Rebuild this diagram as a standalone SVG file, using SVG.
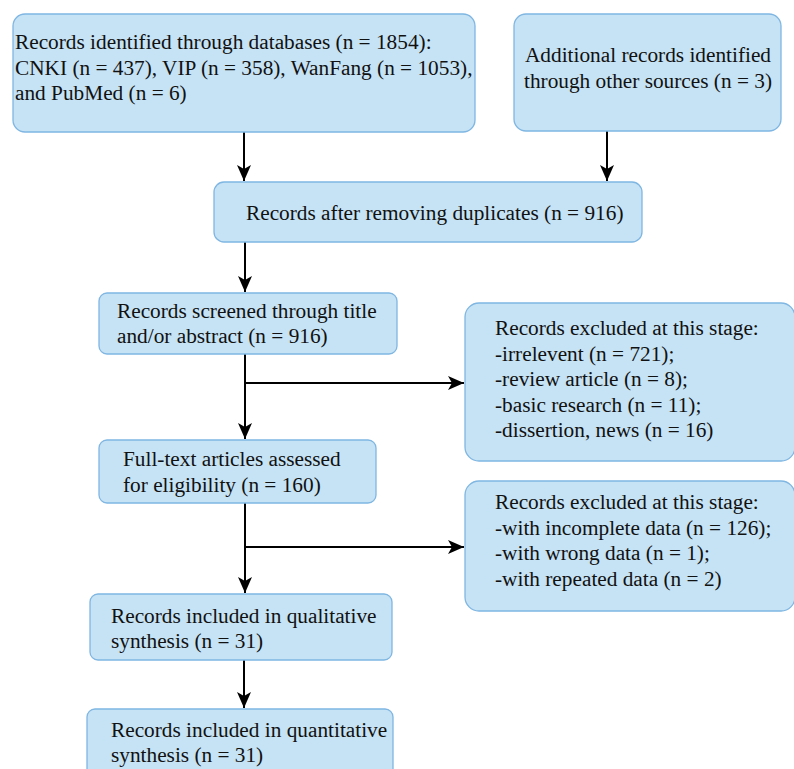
<svg xmlns="http://www.w3.org/2000/svg" width="794" height="769" viewBox="0 0 794 769">
<defs>
<style>
.box{fill:#c6e3f5;stroke:#7fb6e2;stroke-width:1.3}
.t{font-size:21.3px;fill:#111}
.c{fill:none;stroke:#000;stroke-width:2}
</style>
<marker id="ah" markerUnits="userSpaceOnUse" markerWidth="20" markerHeight="16" viewBox="-17 -8 18 16" refX="0" refY="0" orient="auto">
<path d="M0,0 L-16,-7 L-12,0 L-16,7 Z" fill="#000"/>
</marker>
</defs>
<rect width="794" height="769" fill="#fff"/>
<g id="connectors">
<line class="c" x1="244" y1="131" x2="244" y2="181" marker-end="url(#ah)"/>
<line class="c" x1="607" y1="131" x2="607" y2="181" marker-end="url(#ah)"/>
<line class="c" x1="245" y1="242" x2="245" y2="292" marker-end="url(#ah)"/>
<line class="c" x1="245" y1="354" x2="245" y2="439" marker-end="url(#ah)"/>
<line class="c" x1="245" y1="383" x2="464" y2="383" marker-end="url(#ah)"/>
<line class="c" x1="245" y1="503" x2="245" y2="593" marker-end="url(#ah)"/>
<line class="c" x1="245" y1="547" x2="464" y2="547" marker-end="url(#ah)"/>
<line class="c" x1="244" y1="660" x2="244" y2="708" marker-end="url(#ah)"/>
</g>
<g font-family="Liberation Serif, Times New Roman, serif">
<g id="n1">
<rect class="box" x="13" y="14" width="462" height="118" rx="12"/>
<text class="t" x="15" y="49">Records identified through databases (n = 1854):</text>
<text class="t" x="15" y="75">CNKI (n = 437), VIP (n = 358), WanFang (n = 1053),</text>
<text class="t" x="15" y="100">and PubMed (n = 6)</text>
</g>
<g id="n2">
<rect class="box" x="514" y="14" width="267" height="117" rx="12"/>
<text class="t" x="648" y="62" text-anchor="middle">Additional records identified</text>
<text class="t" x="648" y="88" text-anchor="middle">through other sources (n = 3)</text>
</g>
<g id="n3">
<rect class="box" x="214" y="182" width="428" height="60" rx="10"/>
<text class="t" x="246" y="220">Records after removing duplicates (n = 916)</text>
</g>
<g id="n4">
<rect class="box" x="99" y="293" width="298" height="61" rx="8"/>
<text class="t" x="117" y="318">Records screened through title</text>
<text class="t" x="117" y="343">and/or abstract (n = 916)</text>
</g>
<g id="n5">
<rect class="box" x="465" y="303" width="330" height="158" rx="14"/>
<text class="t" x="495" y="335">Records excluded at this stage:</text>
<text class="t" x="495" y="361">-irrelevent (n = 721);</text>
<text class="t" x="495" y="386">-review article (n = 8);</text>
<text class="t" x="495" y="412">-basic research (n = 11);</text>
<text class="t" x="495" y="437">-dissertion, news (n = 16)</text>
</g>
<g id="n6">
<rect class="box" x="99" y="440" width="277" height="63" rx="8"/>
<text class="t" x="123" y="466">Full-text articles assessed</text>
<text class="t" x="123" y="492">for eligibility (n = 160)</text>
</g>
<g id="n7">
<rect class="box" x="465" y="481" width="330" height="130" rx="14"/>
<text class="t" x="495" y="509">Records excluded at this stage:</text>
<text class="t" x="495" y="535">-with incomplete data (n = 126);</text>
<text class="t" x="495" y="560">-with wrong data (n = 1);</text>
<text class="t" x="495" y="586">-with repeated data (n = 2)</text>
</g>
<g id="n8">
<rect class="box" x="90" y="594" width="302" height="66" rx="8"/>
<text class="t" x="111" y="623">Records included in qualitative</text>
<text class="t" x="111" y="648">synthesis (n = 31)</text>
</g>
<g id="n9">
<rect class="box" x="87" y="709" width="306" height="80" rx="8"/>
<text class="t" x="111" y="737">Records included in quantitative</text>
<text class="t" x="111" y="762">synthesis (n = 31)</text>
</g>
</g>
</svg>
